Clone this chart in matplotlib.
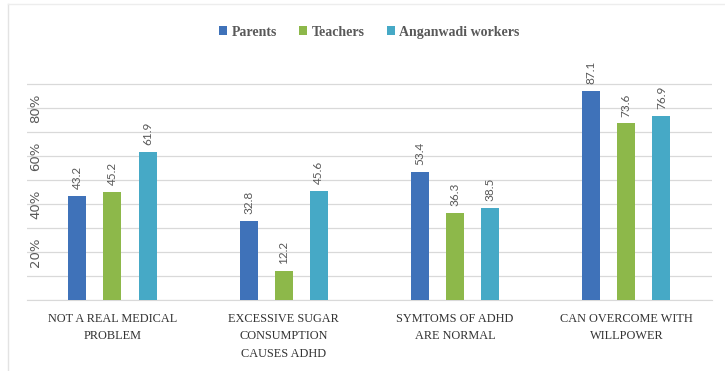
import matplotlib.pyplot as plt
from matplotlib.lines import Line2D
import numpy as np

# data
categories = ["NOT A REAL MEDICAL\nPROBLEM",
              "EXCESSIVE SUGAR\nCONSUMPTION\nCAUSES ADHD",
              "SYMTOMS OF ADHD\nARE NORMAL",
              "CAN OVERCOME WITH\nWILLPOWER"]
parents = [43.2, 32.8, 53.4, 87.1]
teachers = [45.2, 12.2, 36.3, 73.6]
anganwadi = [61.9, 45.6, 38.5, 76.9]
series_names = ["Parents", "Teachers", "Anganwadi workers"]
ytick_vals = [20, 40, 60, 80]

colors = ["#3F72B9", "#8DB84A", "#46A9C6"]
txt = "#595959"

fig = plt.figure(figsize=(7.25, 3.71), dpi=100)
ax = fig.add_axes([0.037, 0.191, 0.945, 0.647])

x = np.arange(len(categories))
offset = 0.205
width = 0.105
for i, (vals, name) in enumerate(zip([parents, teachers, anganwadi], series_names)):
    pos = x + (i - 1) * offset
    bars = ax.bar(pos, vals, width, color=colors[i], label=name, zorder=3)
    for b, v in zip(bars, vals):
        ax.annotate(f"{v}", (b.get_x() + b.get_width() / 2, v),
                    xytext=(0, 5), textcoords="offset points",
                    rotation=90, ha="center", va="bottom",
                    fontsize=8.5, color=txt, family="Lato")

ax.set_xlim(-0.5, 3.5)
ax.set_ylim(0, 100)
ax.set_yticks(np.arange(0, 100, 10))
ax.set_yticklabels(["" if v not in ytick_vals else f"{v}%" for v in range(0, 100, 10)],
                   rotation=90, va="center", fontsize=9.5, color=txt, family="DejaVu Sans")
ax.tick_params(axis="y", length=0, pad=-11)
ax.grid(axis="y", color="#D9D9D9", linewidth=0.9, zorder=0)

ax.set_xticks(x)
ax.set_xticklabels(categories, fontsize=8.8, color="#333333",
                   family="Liberation Serif", linespacing=1.65)
ax.tick_params(axis="x", length=0, pad=9)

for s in ["top", "right", "left"]:
    ax.spines[s].set_visible(False)
ax.spines["bottom"].set_color("#D9D9D9")

leg = ax.legend(loc="upper center", bbox_to_anchor=(0.5, 1.195), ncol=3, frameon=False,
                handlelength=0.6, handleheight=0.6, handletextpad=0.3, columnspacing=1.6,
                prop={"family": "Liberation Serif", "weight": "bold", "size": 10})
for t in leg.get_texts():
    t.set_color(txt)

# light outer frame
fig.add_artist(Line2D([0.011, 0.011], [0, 0.99], color="#E3E3E3", lw=1))
fig.add_artist(Line2D([0.011, 1], [0.99, 0.99], color="#EDEDED", lw=1))

fig.savefig("out.png", dpi=100)
